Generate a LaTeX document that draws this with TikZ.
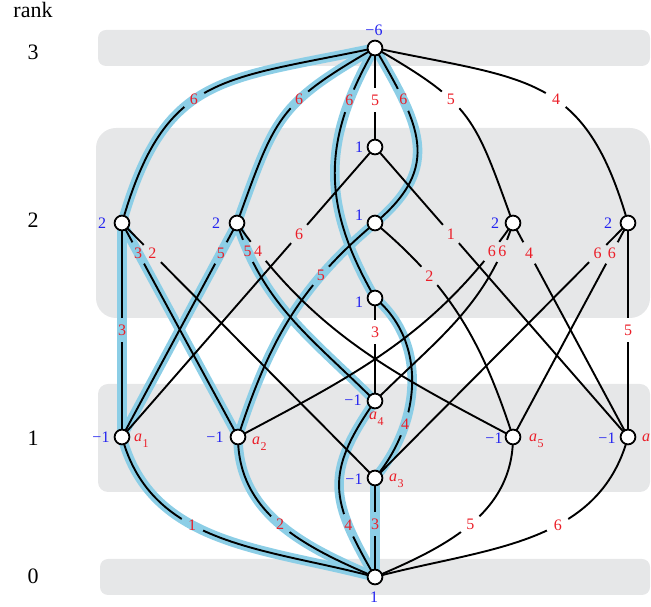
\documentclass[tikz,border=0pt]{standalone}
\usepackage{fontspec}
\setmainfont{Liberation Serif}
\definecolor{bandgray}{RGB}{230,231,232}
\definecolor{hlc}{RGB}{140,206,230}
\definecolor{lred}{RGB}{235,30,40}
\definecolor{mub}{RGB}{35,35,240}
\pgfdeclarelayer{bandl}\pgfdeclarelayer{hll}\pgfdeclarelayer{edl}
\pgfsetlayers{bandl,hll,edl,main}
\newcommand\atm[1]{\textit{a}\kern0.3pt\raisebox{-0.32em}{\fontsize{12}{12}\selectfont #1}}
\begin{document}
\begin{tikzpicture}[x=1pt,y=1pt,
 vtx/.style={circle,draw=black,fill=white,line width=1.8pt,minimum size=14.8pt,inner sep=0pt},
 ln/.style={line width=1.9pt,draw=black},
 hlb/.style={line width=9.5pt,draw=hlc},
 gp/.style={sloped,minimum width=24pt,minimum height=4pt,inner sep=0pt,draw=none},
 gW/.style={gp,fill=white}, gG/.style={gp,fill=bandgray}, gB/.style={gp,fill=hlc},
 lb/.style={text=lred,font=\fontsize{16}{16}\selectfont,inner sep=0pt},
 mul/.style={text=mub,font=\fontsize{16}{16}\selectfont,inner sep=0pt},
 atl/.style={text=lred,font=\fontsize{16}{16}\selectfont,inner sep=0pt,anchor=base west},
 rk/.style={font=\fontsize{22}{22}\selectfont,inner sep=0pt,anchor=base},
 bandbox/.style={fill=bandgray,draw=none}
]
\useasboundingbox (0,0) rectangle (651,607);
% bands
\begin{pgfonlayer}{bandl}
\fill[bandbox,rounded corners=8pt] (98,541) rectangle (650,577);
\fill[bandbox,rounded corners=20pt] (96,289) rectangle (650,479);
\fill[bandbox,rounded corners=10pt] (98,115) rectangle (650,223);
\fill[bandbox,rounded corners=8pt] (100,12) rectangle (650,48);
\end{pgfonlayer}
% rank labels
\node[rk] (rank) at (33,589) {rank};
\node[rk] (r3) at (33,547) {3};
\node[rk] (r2) at (33,379) {2};
\node[rk] (r1) at (33,161) {1};
\node[rk] (r0) at (33,23) {0};
% vertices
\node[vtx] (T) at (375,559) {};
\node[vtx] (M1) at (375,460) {};
\node[vtx] (L1) at (122,384) {};
\node[vtx] (L2) at (237,384) {};
\node[vtx] (M2) at (375,384) {};
\node[vtx] (R1) at (513,384) {};
\node[vtx] (R2) at (628,384) {};
\node[vtx] (M3) at (375,309) {};
\node[vtx] (a4) at (375,206) {};
\node[vtx] (a1) at (122,170) {};
\node[vtx] (a2) at (238,170) {};
\node[vtx] (a5) at (513,170) {};
\node[vtx] (a6) at (628,170) {};
\node[vtx] (a3) at (375,129) {};
\node[vtx] (B) at (375,30) {};
% mu values
\node[mul] (muT) at (374,577) {−6};
\node[mul] (muM1) at (359,460) {1};
\node[mul] (muL1) at (102,384) {2};
\node[mul] (muL2) at (216,384) {2};
\node[mul] (muM2) at (359,392) {1};
\node[mul] (muR1) at (495,384) {2};
\node[mul] (muR2) at (608,384) {2};
\node[mul] (muM3) at (359,305) {1};
\node[mul] (mua1) at (101,170) {−1};
\node[mul] (mua2) at (215,170) {−1};
\node[mul] (mua4) at (353,207) {−1};
\node[mul] (mua3) at (354,128) {−1};
\node[mul] (mua5) at (494,169) {−1};
\node[mul] (mua6) at (607,169) {−1};
\node[mul] (muB) at (374,10) {1};
% atom names
\node[atl] (na1) at (134,165) {\atm{1}};
\node[atl] (na2) at (252,162) {\atm{2}};
\node[atl] (na4) at (369,187) {\atm{4}};
\node[atl] (na3) at (389,125) {\atm{3}};
\node[atl] (na5) at (529,165) {\atm{5}};
\node[atl] (na6) at (642,165) {\atm{6}};
% highlight bands
\begin{pgfonlayer}{hll}
\draw[hlb] (T.center) to[out=192,in=74,looseness=1.3] (L1.center);
\draw[hlb] (T.center) to[out=210,in=70,looseness=1.3] (L2.center);
\draw[hlb] (T.center) to[out=240,in=120,looseness=1.1] (M3.center);
\draw[hlb] (T.center) to[out=-60,in=40,looseness=1.3] (M2.center);
\draw[hlb] (L1.center) -- (a1.center);
\draw[hlb] (L1.center) -- (a2.center);
\draw[hlb] (L2.center) -- (a1.center);
\draw[hlb] (L2.center) to[out=-72,in=135] (a4.center);
\draw[hlb] (M2.center) to[out=220,in=72] (a2.center);
\draw[hlb] (M3.center) to[out=-40,in=50] (a3.center);
\draw[hlb] (B.center) to[out=165,in=-75] (a1.center);
\draw[hlb] (B.center) to[out=157,in=-90] (a2.center);
\draw[hlb] (B.center) -- (a3.center);
\draw[hlb] (B.center) to[out=120,in=235,looseness=1.3] (a4.center);
\end{pgfonlayer}
% edges
\begin{pgfonlayer}{edl}
% top
\draw[ln] (T.center) to[out=192,in=74,looseness=1.3] node[gB,pos=.56]{} node[lb,pos=.56]{6} (L1.center);
\draw[ln] (T.center) to[out=210,in=70,looseness=1.3] node[gB,pos=.37]{} node[lb,pos=.37]{6} (L2.center);
\draw[ln] (T.center) to[out=240,in=120,looseness=1.1] node[gB,pos=.2]{} node[lb,pos=.2]{6} (M3.center);
\draw[ln] (T.center) -- node[gW,pos=.525]{} node[lb,pos=.525]{5} (M1.center);
\draw[ln] (T.center) to[out=-60,in=40,looseness=1.3] node[gB,pos=.25]{} node[lb,pos=.25]{6} (M2.center);
\draw[ln] (T.center) to[out=-30,in=110,looseness=1.3] node[gW,pos=.37]{} node[lb,pos=.37]{5} (R1.center);
\draw[ln] (T.center) to[out=-12,in=106,looseness=1.3] node[gW,pos=.56]{} node[lb,pos=.56]{4} (R2.center);
% rank 2 to rank 1
\draw[ln] (L1.center) -- node[gB,pos=.5]{} node[lb,pos=.5]{3} (a1.center);
\draw[ln] (L1.center) -- node[gB,pos=.14]{} node[lb,pos=.14]{3} (a2.center);
\draw[ln] (L1.center) -- node[gG,pos=.12]{} node[lb,pos=.12]{2} (a3.center);
\draw[ln] (L2.center) -- node[gB,pos=.14]{} node[lb,pos=.14]{5} (a1.center);
\draw[ln] (L2.center) to[out=-72,in=135] node[gB,pos=.12]{} node[lb,pos=.12]{5} (a4.center);
\draw[ln] (L2.center) to[out=-55,in=152] node[gG,pos=.09]{} node[lb,pos=.09]{4} (a5.center);
\draw[ln] (M1.center) -- node[gG,pos=.3]{} node[lb,pos=.3]{6} (a1.center);
\draw[ln] (M1.center) -- node[gG,pos=.3]{} node[lb,pos=.3]{1} (a6.center);
\draw[ln] (M2.center) to[out=220,in=72] node[gB,pos=.28]{} node[lb,pos=.28]{5} (a2.center);
\draw[ln] (M2.center) to[out=-40,in=108] node[gG,pos=.28]{} node[lb,pos=.28]{2} (a5.center);
\draw[ln] (M3.center) -- node[gW,pos=.33]{} node[lb,pos=.33]{3} (a4.center);
\draw[ln] (M3.center) to[out=-40,in=50] node[gB,pos=.7]{} node[lb,pos=.7]{4} (a3.center);
\draw[ln] (R1.center) -- node[gG,pos=.14]{} node[lb,pos=.14]{4} (a6.center);
\draw[ln] (R1.center) to[out=252,in=45] node[gG,pos=.12]{} node[lb,pos=.12]{6} (a4.center);
\draw[ln] (R1.center) to[out=235,in=28] node[gG,pos=.09]{} node[lb,pos=.09]{6} (a2.center);
\draw[ln] (R2.center) -- node[gW,pos=.5]{} node[lb,pos=.5]{5} (a6.center);
\draw[ln] (R2.center) -- node[gG,pos=.14]{} node[lb,pos=.14]{6} (a5.center);
\draw[ln] (R2.center) -- node[gG,pos=.12]{} node[lb,pos=.12]{6} (a3.center);
% bottom
\draw[ln] (B.center) to[out=165,in=-75] node[gB,pos=.6]{} node[lb,pos=.6]{1} (a1.center);
\draw[ln] (B.center) to[out=157,in=-90] node[gB,pos=.5]{} node[lb,pos=.5]{2} (a2.center);
\draw[ln] (B.center) -- node[gB,pos=.535]{} node[lb,pos=.535]{3} (a3.center);
\draw[ln] (B.center) to[out=120,in=235,looseness=1.3] node[gB,pos=.26]{} node[lb,pos=.26]{4} (a4.center);
\draw[ln] (B.center) to[out=23,in=-90] node[gW,pos=.5]{} node[lb,pos=.5]{5} (a5.center);
\draw[ln] (B.center) to[out=15,in=-105] node[gW,pos=.6]{} node[lb,pos=.6]{6} (a6.center);
\end{pgfonlayer}
\end{tikzpicture}
\end{document}
